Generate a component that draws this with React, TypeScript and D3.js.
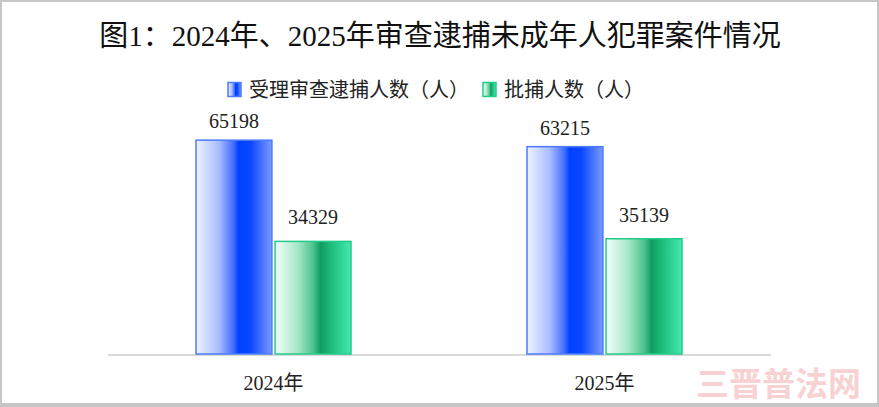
import { useEffect, useRef } from "react";
import * as d3 from "d3";

const W = 879, H = 407;
const TITLE = "图1：2024年、2025年审查逮捕未成年人犯罪案件情况";
const categories = ["2024年", "2025年"];
const seriesNames = ["受理审查逮捕人数（人）", "批捕人数（人）"];
const reviewed = [65198, 63215];
const approved = [34329, 35139];
const WATERMARK = "三晋普法网";

const FONT = "'Liberation Serif','Times New Roman','Noto Sans CJK SC',serif";

export default function App() {
  const svgRef = useRef<SVGSVGElement>(null);

  useEffect(() => {
    if (!svgRef.current) return;
    const svg = d3.select(svgRef.current);
    svg.selectAll("*").remove();
    svg.attr("width", W).attr("height", H);

    const defs = svg.append("defs");
    const mkGrad = (id: string, stops: [number, string][]) => {
      const g = defs.append("linearGradient").attr("id", id).attr("x1", "0").attr("x2", "1").attr("y1", "0").attr("y2", "0");
      stops.forEach(([o, c]) => g.append("stop").attr("offset", o).attr("stop-color", c));
    };
    mkGrad("gBlue", [[0, "#eef2ff"], [0.3, "#a9bdff"], [0.5, "#3f6bff"], [0.56, "#0040ff"], [0.72, "#0a48ff"], [1, "#7d99ff"]]);
    mkGrad("gGreen", [[0, "#f2fff9"], [0.3, "#a6e6c8"], [0.5, "#4cc48e"], [0.6, "#0f9c60"], [0.72, "#1bb977"], [1, "#44eab0"]]);
    const fills = ["url(#gBlue)", "url(#gGreen)"];
    const strokes = ["#4c7bff", "#22cc88"];
    const series = [reviewed, approved];
    const labelGap = [12, 17];

    svg.append("rect").attr("x", 0).attr("y", 0).attr("width", W).attr("height", H).attr("fill", "#fff");

    // title
    svg.append("text").attr("x", 440).attr("y", 46).attr("text-anchor", "middle")
      .attr("font-family", FONT).attr("font-size", "29px").attr("fill", "#111").text(TITLE);

    // legend
    const legendX = [228, 483];
    seriesNames.forEach((name, i) => {
      svg.append("rect").attr("x", legendX[i]).attr("y", 82.5).attr("width", 13).attr("height", 14)
        .attr("fill", fills[i]).attr("stroke", strokes[i]).attr("stroke-width", 1.5);
      svg.append("text").attr("x", legendX[i] + 21).attr("y", 97)
        .attr("font-family", FONT).attr("font-size", "20px").attr("fill", "#222").text(name);
    });

    const x0 = d3.scaleBand().domain(categories).range([108, 770]);
    const x1 = d3.scaleBand<number>().domain([0, 1]).range([-77.5, 77.5]).paddingInner(0.04);
    const y = d3.scaleLinear().domain([0, 70000]).range([354, 124.4]);

    // axis line
    svg.append("line").attr("x1", 108).attr("x2", 771).attr("y1", 355).attr("y2", 355)
      .attr("stroke", "#d9d9d9").attr("stroke-width", 2);

    series.forEach((vals, si) => {
      const g = svg.append("g");
      g.selectAll("rect").data(vals).join("rect")
        .attr("x", (_, i) => x0(categories[i])! + x0.bandwidth() / 2 + x1(si)!)
        .attr("y", d => y(d))
        .attr("width", x1.bandwidth())
        .attr("height", d => y(0) - y(d))
        .attr("fill", fills[si]).attr("stroke", strokes[si]).attr("stroke-width", 1.5);
      g.selectAll("text").data(vals).join("text")
        .attr("x", (_, i) => x0(categories[i])! + x0.bandwidth() / 2 + x1(si)! + x1.bandwidth() / 2)
        .attr("y", d => y(d) - labelGap[si])
        .attr("text-anchor", "middle").attr("font-family", FONT).attr("font-size", "20px").attr("fill", "#222")
        .text(d => d);
    });

    // category labels
    svg.append("g").selectAll("text").data(categories).join("text")
      .attr("x", d => x0(d)! + x0.bandwidth() / 2).attr("y", 390)
      .attr("text-anchor", "middle").attr("font-family", FONT).attr("font-size", "20px").attr("fill", "#222")
      .text(d => d);

    // frame
    svg.append("rect").attr("x", 1).attr("y", 1).attr("width", W - 2).attr("height", H - 4)
      .attr("fill", "none").attr("stroke", "#c6c6c6").attr("stroke-width", 2);
    svg.append("rect").attr("x", 0).attr("y", H - 4).attr("width", W).attr("height", 4).attr("fill", "#c6c6c6");

    // watermark
    svg.append("text").attr("x", 696).attr("y", 396)
      .attr("font-family", "'Noto Sans CJK SC',sans-serif").attr("font-weight", "700").attr("font-size", "33px")
      .attr("fill", "#f4b8b8").attr("fill-opacity", 0.65).text(WATERMARK);
  }, []);

  return <svg ref={svgRef} style={{ position: "absolute", left: 0, top: 0 }} />;
}
